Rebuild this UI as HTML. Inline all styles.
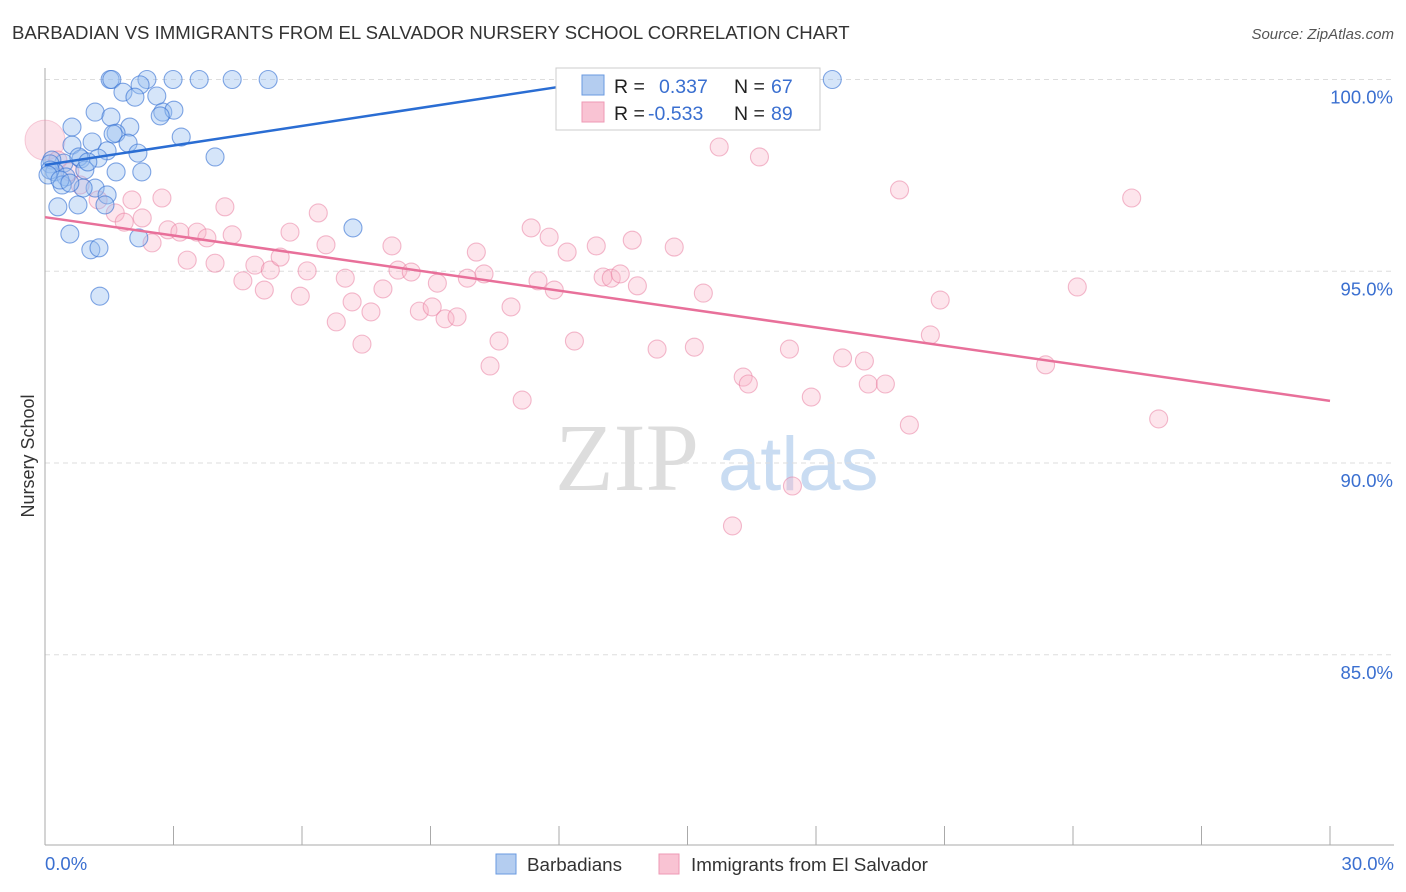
<!DOCTYPE html>
<html><head><meta charset="utf-8"><style>
body{margin:0;background:#fff;font-family:"Liberation Sans",sans-serif;}
svg{display:block}
</style></head><body>
<svg id="chart" width="1406" height="892" xmlns="http://www.w3.org/2000/svg" font-family="Liberation Sans, sans-serif">
<text x="12" y="39" font-size="18.6" fill="#333">BARBADIAN VS IMMIGRANTS FROM EL SALVADOR NURSERY SCHOOL CORRELATION CHART</text>
<text x="1394" y="39" font-size="15" fill="#555" font-style="italic" text-anchor="end">Source: ZipAtlas.com</text>
<g><text x="555" y="490" font-size="96" fill="#ddd" font-family="Liberation Serif, serif">ZIP</text><text x="718" y="490" font-size="76" fill="#c9dcf2">atlas</text></g>
<g id="grid"></g>
<g id="axes"></g>
<text transform="translate(34,456) rotate(-90)" font-size="18" fill="#333" text-anchor="middle">Nursery School</text>
<g id="pink"></g>
<g id="blue"></g>
<g id="lines"></g>
<g>
<rect x="556" y="68" width="264" height="62" fill="#fff" stroke="#ccc"/>
<rect x="582" y="75" width="22" height="20" fill="#b4cdf0" stroke="#6a9ae0"/>
<rect x="582" y="102" width="22" height="20" fill="#f9c3d3" stroke="#ee9ab4"/>
<text x="614" y="93" font-size="19.5" fill="#222">R = </text><text x="659" y="93" font-size="19.5" fill="#3a6fd0">0.337</text>
<text x="734" y="93" font-size="19.5" fill="#222">N = </text><text x="771" y="93" font-size="19.5" fill="#3a6fd0">67</text>
<text x="614" y="120" font-size="19.5" fill="#222">R = </text><text x="648" y="120" font-size="19.5" fill="#3a6fd0">-0.533</text>
<text x="734" y="120" font-size="19.5" fill="#222">N = </text><text x="771" y="120" font-size="19.5" fill="#3a6fd0">89</text>
</g>
<g>
<rect x="496" y="854" width="20" height="20" fill="#b4cdf0" stroke="#6a9ae0"/>
<text x="527" y="871" font-size="18.8" fill="#333">Barbadians</text>
<rect x="659" y="854" width="20" height="20" fill="#f9c3d3" stroke="#ee9ab4"/>
<text x="691" y="871" font-size="18.8" fill="#333">Immigrants from El Salvador</text>
</g>
</svg>
<script>
const yTicks=[100,95,90,85];
const yTickLabels=["100.0%","95.0%","90.0%","85.0%"];
const xTicks=[0,3,6,9,12,15,18,21,24,27,30];
const blueX=[1.52,1.56,2.38,2.99,3.60,4.37,5.21,18.38,2.22,1.82,2.10,2.61,2.75,3.01,2.69,1.17,1.54,0.63,1.98,1.66,1.59,3.18,1.10,1.94,0.63,1.45,2.17,3.97,0.84,1.24,0.44,0.79,0.16,0.12,1.66,2.26,0.93,0.23,0.49,0.40,1.17,1.45,0.89,0.30,0.77,1.40,0.58,2.19,1.07,1.26,7.19,1.28,0.12,0.07,0.35,0.58,1.00];
const blueY=[100,100,100,100,100,100,100,100,99.86,99.67,99.54,99.57,99.15,99.20,99.05,99.15,99.02,98.76,98.76,98.60,98.58,98.50,98.37,98.34,98.29,98.14,98.08,97.98,97.93,97.95,97.82,97.98,97.90,97.80,97.59,97.59,97.64,97.59,97.46,97.25,97.17,96.99,97.17,96.68,96.73,96.73,95.97,95.87,95.56,95.61,96.13,94.35,97.64,97.51,97.38,97.30,97.85];
const pinkX=[0.30,0.58,0.82,1.24,1.64,1.85,2.03,2.27,2.50,2.73,2.87,3.15,3.32,3.55,3.78,3.97,4.20,4.37,4.62,4.90,5.12,5.26,5.49,5.72,5.96,6.12,6.38,6.56,6.80,7.01,7.17,7.40,7.61,7.89,8.10,8.24,8.55,8.74,9.04,9.16,9.34,9.62,9.86,10.07,10.25,10.39,10.60,10.88,11.14,11.35,11.51,11.77,11.89,12.19,12.36,12.87,13.03,13.22,13.43,13.71,13.83,14.29,14.69,15.16,15.37,15.74,16.30,16.42,16.68,17.38,17.45,17.89,18.62,19.13,19.22,19.62,19.95,20.18,20.67,20.90,23.36,24.10,25.37,26.00,16.05];
const pinkY=[97.90,97.59,97.25,96.86,96.52,96.28,96.86,96.39,95.74,96.91,96.08,96.02,95.29,96.02,95.87,95.21,96.68,95.95,94.75,95.16,94.51,95.03,95.37,96.02,94.35,95.01,96.52,95.69,93.68,94.82,94.20,93.10,93.94,94.54,95.66,95.03,94.98,93.96,94.07,94.69,93.76,93.81,94.82,95.50,94.93,92.53,93.18,94.07,91.64,96.13,94.75,95.89,94.51,95.50,93.18,95.66,94.85,94.82,94.93,95.81,94.62,92.97,95.63,93.02,94.43,98.24,92.24,92.06,97.98,92.97,89.40,91.72,92.74,92.66,92.06,92.06,97.12,90.99,93.34,94.25,92.56,94.59,96.91,91.15,88.36];
const blueTrend=[[0,97.77],[12.72,99.93]];
const pinkTrend=[[0,96.41],[30,91.62]];
const NS="http://www.w3.org/2000/svg";
const X=v=>45+v*(1285/30);
const Y=v=>79.5+(100-v)*38.35;
function mk(tag,attrs,parent){const e=document.createElementNS(NS,tag);for(const k in attrs)e.setAttribute(k,attrs[k]);parent.appendChild(e);return e;}
const grid=document.getElementById('grid'),axes=document.getElementById('axes');
yTicks.forEach((t,i)=>{
 const l=mk('line',{x1:45,x2:1394,y1:Y(t),y2:Y(t),stroke:'#ddd','stroke-dasharray':'5,4'},grid);
 
 
 const tx=mk('text',{x:1393,y:Y(t)+24,'font-size':18.5,fill:'#3a6fd0','text-anchor':'end'},axes);
 tx.textContent=yTickLabels[i];
 
 
});
mk('line',{x1:45,x2:45,y1:68,y2:845,stroke:'#aaa'},axes);
mk('line',{x1:45,x2:1394,y1:845,y2:845,stroke:'#aaa'},axes);
xTicks.forEach(t=>{const l=mk('line',{x1:X(t),x2:X(t),y1:826,y2:845,stroke:'#aaa'},axes);
 
 });
let a=mk('text',{x:45,y:870,'font-size':18.5,fill:'#3a6fd0'},axes);a.textContent='0.0%';


a=mk('text',{x:1394,y:870,'font-size':18.5,fill:'#3a6fd0','text-anchor':'end'},axes);a.textContent='30.0%';


const pg=document.getElementById('pink'),bg=document.getElementById('blue');
const big=mk('circle',{cx:X(0),cy:Y(98.42),r:20,fill:'rgba(244,160,186,0.3)',stroke:'rgba(232,120,155,0.35)'},pg);


pinkX.forEach((v,i)=>{const c=mk('circle',{cx:X(v),cy:Y(pinkY[i]),r:9,fill:'rgba(248,180,200,0.35)',stroke:'rgba(232,120,155,0.5)','stroke-width':1.1},pg);
 
 });
blueX.forEach((v,i)=>{const c=mk('circle',{cx:X(v),cy:Y(blueY[i]),r:9,fill:'rgba(150,190,240,0.4)',stroke:'rgba(50,110,210,0.6)','stroke-width':1.1},bg);
 
 });
const lg=document.getElementById('lines');
let tl=mk('line',{x1:X(blueTrend[0][0]),y1:Y(blueTrend[0][1]),x2:X(blueTrend[1][0]),y2:Y(blueTrend[1][1]),stroke:'#2a6dd3','stroke-width':2.5},lg);


tl=mk('line',{x1:X(pinkTrend[0][0]),y1:Y(pinkTrend[0][1]),x2:X(pinkTrend[1][0]),y2:Y(pinkTrend[1][1]),stroke:'#e8709a','stroke-width':2.5},lg);


</script>
</body></html>
